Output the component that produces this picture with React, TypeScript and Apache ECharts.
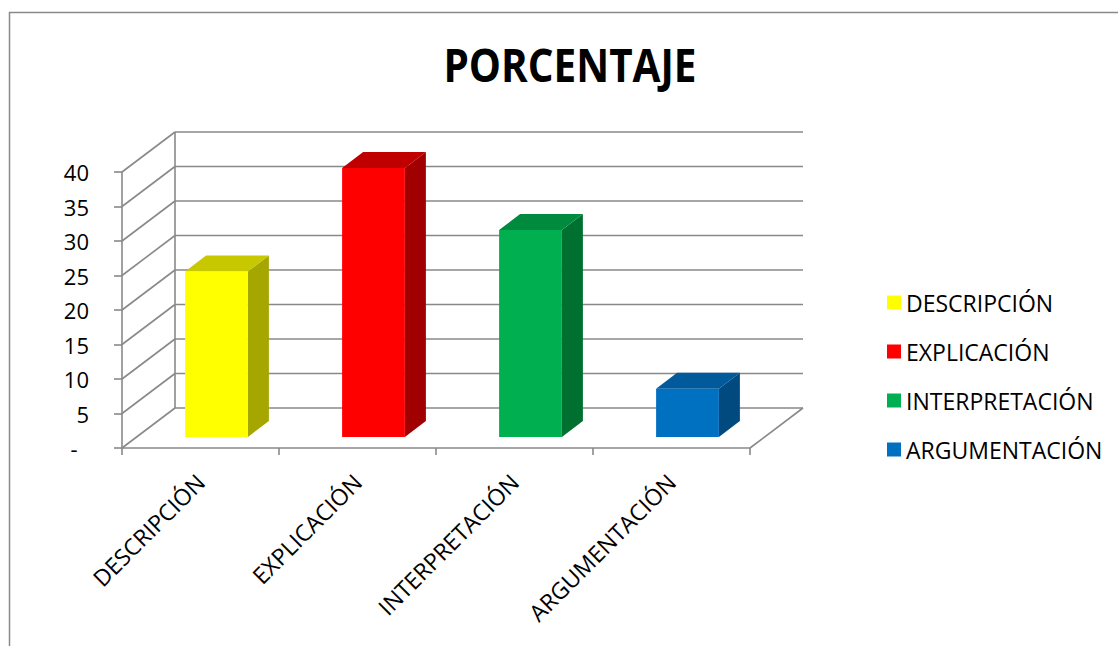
import React, { useEffect, useRef } from "react";
import * as echarts from "echarts";

const categories = ["DESCRIPCIÓN", "EXPLICACIÓN", "INTERPRETACIÓN", "ARGUMENTACIÓN"];
const values = [24, 39, 30, 7];
const frontColors = ["#FFFF00", "#FF0000", "#00B050", "#0070C0"];
const sideColors = ["#A6A600", "#A00000", "#007030", "#004A80"];
const topColors = ["#C8C800", "#C00000", "#008A3E", "#005A9C"];
const yTicks = [0, 5, 10, 15, 20, 25, 30, 35, 40];
const titleText = "PORCENTAJE";

const GRID = "#898989";
const DEPTH_X = 53;
const DEPTH_Y = -40;
const BAR_DX = 21;
const BAR_DY = -16;
const BAR_SHIFT_X = 16;
const BAR_SHIFT_Y = -11;
const FONT = "'Open Sans', 'Noto Sans', sans-serif";

export default function App() {
  const ref = useRef<HTMLDivElement>(null);
  useEffect(() => {
    if (!ref.current) return;
    const chart = echarts.init(ref.current, undefined, { renderer: "svg" });

    const wallSeries: any = {
      type: "custom",
      name: "_wall",
      silent: true,
      z: 1,
      clip: false,
      data: yTicks.map((t) => [0, t]),
      renderItem: (params: any, api: any) => {
        const cs = params.coordSys;
        const v = api.value(1);
        const p = api.coord([0, v]);
        const gx = cs.x;
        const gw = cs.width;
        const y = p[1];
        const style = { stroke: GRID, lineWidth: 1.6 };
        const children: any[] = [
          { type: "line", shape: { x1: gx, y1: y, x2: gx + DEPTH_X, y2: y + DEPTH_Y }, style },
          { type: "line", shape: { x1: gx + DEPTH_X, y1: y + DEPTH_Y, x2: gx + gw + DEPTH_X, y2: y + DEPTH_Y }, style },
        ];
        if (v === 0) {
          children.push({ type: "line", shape: { x1: gx + gw, y1: y, x2: gx + gw + DEPTH_X, y2: y + DEPTH_Y }, style });
          children.push({ type: "line", shape: { x1: gx + DEPTH_X, y1: cs.y + DEPTH_Y, x2: gx + DEPTH_X, y2: cs.y + cs.height + DEPTH_Y }, style });
        }
        return { type: "group", children };
      },
    };

    const barSeries = categories.map((name, i) => ({
      type: "custom",
      name,
      z: 3,
      clip: false,
      itemStyle: { color: frontColors[i] },
      data: [[i, values[i]]],
      renderItem: (params: any, api: any) => {
        const idx = api.value(0);
        const v = api.value(1);
        const base = api.coord([idx, 0]);
        const top = api.coord([idx, v]);
        const band = api.size([1, 0])[0];
        const bw = band * 0.4;
        const x = base[0] - bw / 2 + BAR_SHIFT_X;
        const yB = base[1] + BAR_SHIFT_Y;
        const yT = top[1] + BAR_SHIFT_Y;
        return {
          type: "group",
          children: [
            {
              type: "polygon",
              shape: { points: [[x + bw, yT], [x + bw + BAR_DX, yT + BAR_DY], [x + bw + BAR_DX, yB + BAR_DY], [x + bw, yB]] },
              style: { fill: sideColors[i] },
            },
            {
              type: "polygon",
              shape: { points: [[x, yT], [x + BAR_DX, yT + BAR_DY], [x + bw + BAR_DX, yT + BAR_DY], [x + bw, yT]] },
              style: { fill: topColors[i] },
            },
            { type: "rect", shape: { x, y: yT, width: bw, height: yB - yT }, style: { fill: frontColors[i] } },
          ],
        };
      },
    }));

    chart.setOption({
      animation: false,
      backgroundColor: "#ffffff",
      legend: {
        orient: "vertical",
        left: 882,
        top: 286,
        itemWidth: 14,
        itemHeight: 14,
        itemGap: 26,
        icon: "rect",
        data: categories,
        selectedMode: false,
        textStyle: { fontFamily: FONT, fontSize: 23, color: "#000", lineHeight: 22 },
      },
      grid: { left: 122, top: 172, width: 628, height: 276, containLabel: false, outerBoundsMode: "none" },
      xAxis: {
        type: "category",
        data: categories,
        axisLine: { show: true, lineStyle: { color: GRID, width: 1.6 } },
        axisTick: { show: true, length: 7, lineStyle: { color: GRID, width: 1.6 } },
        axisLabel: {
          interval: 0,
          rotate: 45,
          margin: 30,
          fontFamily: FONT,
          fontSize: 23,
          color: "#000",
        },
        splitLine: { show: false },
      },
      yAxis: {
        type: "value",
        min: 0,
        max: 40,
        interval: 5,
        axisLine: { show: true, lineStyle: { color: GRID, width: 1.6 } },
        axisTick: { show: true, length: 8, lineStyle: { color: GRID, width: 1.6 } },
        splitLine: { show: false },
        axisLabel: {
          margin: 33,
          fontFamily: FONT,
          fontSize: 22,
          color: "#000",
          formatter: (v: number) => (v === 0 ? "-\u00a0\u00a0" : String(v)),
        },
      },
      graphic: [
        {
          type: "rect",
          shape: { x: 9.5, y: 12.5, width: 1200, height: 700 },
          style: { fill: "none", stroke: "#8a8a8a", lineWidth: 1.5 },
          silent: true,
          z: -1,
        },
        {
          type: "text",
          x: 570,
          y: 64,
          scaleX: 0.88,
          style: {
            text: titleText,
            fontFamily: FONT,
            fontWeight: "bold",
            fontSize: 46,
            fill: "#000",
            textAlign: "center",
            textVerticalAlign: "middle",
          },
        },
      ],
      series: [wallSeries, ...barSeries],
    });
    return () => chart.dispose();
  }, []);
  return <div ref={ref} style={{ position: "fixed", left: 0, top: 0, width: 1118, height: 646 }} />;
}
